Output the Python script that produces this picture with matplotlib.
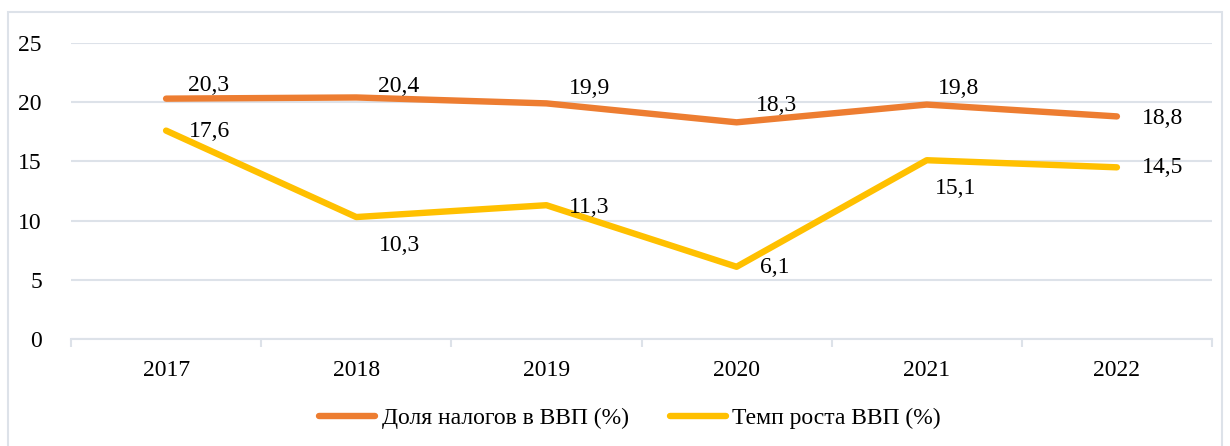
import matplotlib
matplotlib.use("Agg")
import matplotlib.pyplot as plt
from matplotlib.patches import Rectangle
from matplotlib.ticker import FixedLocator

FONT = 17
plt.rcParams['font.family'] = ['Liberation Serif', 'DejaVu Serif']

years = ["2017", "2018", "2019", "2020", "2021", "2022"]
tax_share = [20.3, 20.4, 19.9, 18.3, 19.8, 18.8]
gdp_growth = [17.6, 10.3, 11.3, 6.1, 15.1, 14.5]
tax_label = "Доля налогов в ВВП (%)"
gdp_label = "Темп роста ВВП (%)"

# label offsets in pixels (left edge of text, vertical center)
tax_offsets = [(22, 13), (22, 11), (23, 15), (19, 17), (11, 16), (25, -2)]
gdp_offsets = [(23, -1), (23, -28), (23, -2), (23, -1), (8, -28), (25, 0)]

ORANGE = "#ED7D31"
YELLOW = "#FFC000"
GRID = "#dde2e9"

fig = plt.figure(figsize=(12.3, 4.46), dpi=100)
fig.patches.append(Rectangle((8/1230, -0.05), 1214/1230, 1 - 12/446 + 0.05,
                             transform=fig.transFigure, fill=False,
                             edgecolor=GRID, linewidth=1.5))

ax = fig.add_axes([71/1230, 1 - 339/446, (1212 - 71)/1230, (339 - 43)/446])
x = list(range(len(years)))

ax.plot(x, tax_share, color=ORANGE, linewidth=4.6, solid_capstyle='round',
        solid_joinstyle='round', label=tax_label, zorder=3)
ax.plot(x, gdp_growth, color=YELLOW, linewidth=4.6, solid_capstyle='round',
        solid_joinstyle='round', label=gdp_label, zorder=3)

for xi, v, off in zip(x, tax_share, tax_offsets):
    ax.annotate(str(v).replace('.', ','), (xi, v), xytext=off,
                textcoords='offset pixels', ha='left', va='center',
                fontsize=FONT, zorder=4)
for xi, v, off in zip(x, gdp_growth, gdp_offsets):
    ax.annotate(str(v).replace('.', ','), (xi, v), xytext=off,
                textcoords='offset pixels', ha='left', va='center',
                fontsize=FONT, zorder=4)

ax.set_xlim(-0.5, len(years) - 0.5)
ax.set_ylim(0, 25)
ax.set_yticks([0, 5, 10, 15, 20, 25])
ax.set_xticks(x)
ax.set_xticklabels(years)
ax.xaxis.set_minor_locator(FixedLocator([i - 0.5 for i in range(len(years) + 1)]))
ax.tick_params(axis='x', which='major', length=0, pad=15, labelsize=FONT)
ax.tick_params(axis='x', which='minor', length=6, color=GRID, width=1.5)
ax.tick_params(axis='y', length=0, pad=21, labelsize=FONT)

ax.grid(axis='y', color=GRID, linewidth=1.5, zorder=0)
ax.set_axisbelow(True)
for s in ['top', 'right', 'left']:
    ax.spines[s].set_visible(False)
ax.spines['bottom'].set_color(GRID)
ax.spines['bottom'].set_linewidth(1.5)

fig.legend(loc='center', bbox_to_anchor=(630/1230, 1 - 418/446), ncol=2,
           frameon=False, fontsize=FONT, handlelength=2.37,
           handletextpad=0.26, columnspacing=1.75)

plt.savefig("out.png", dpi=100)
